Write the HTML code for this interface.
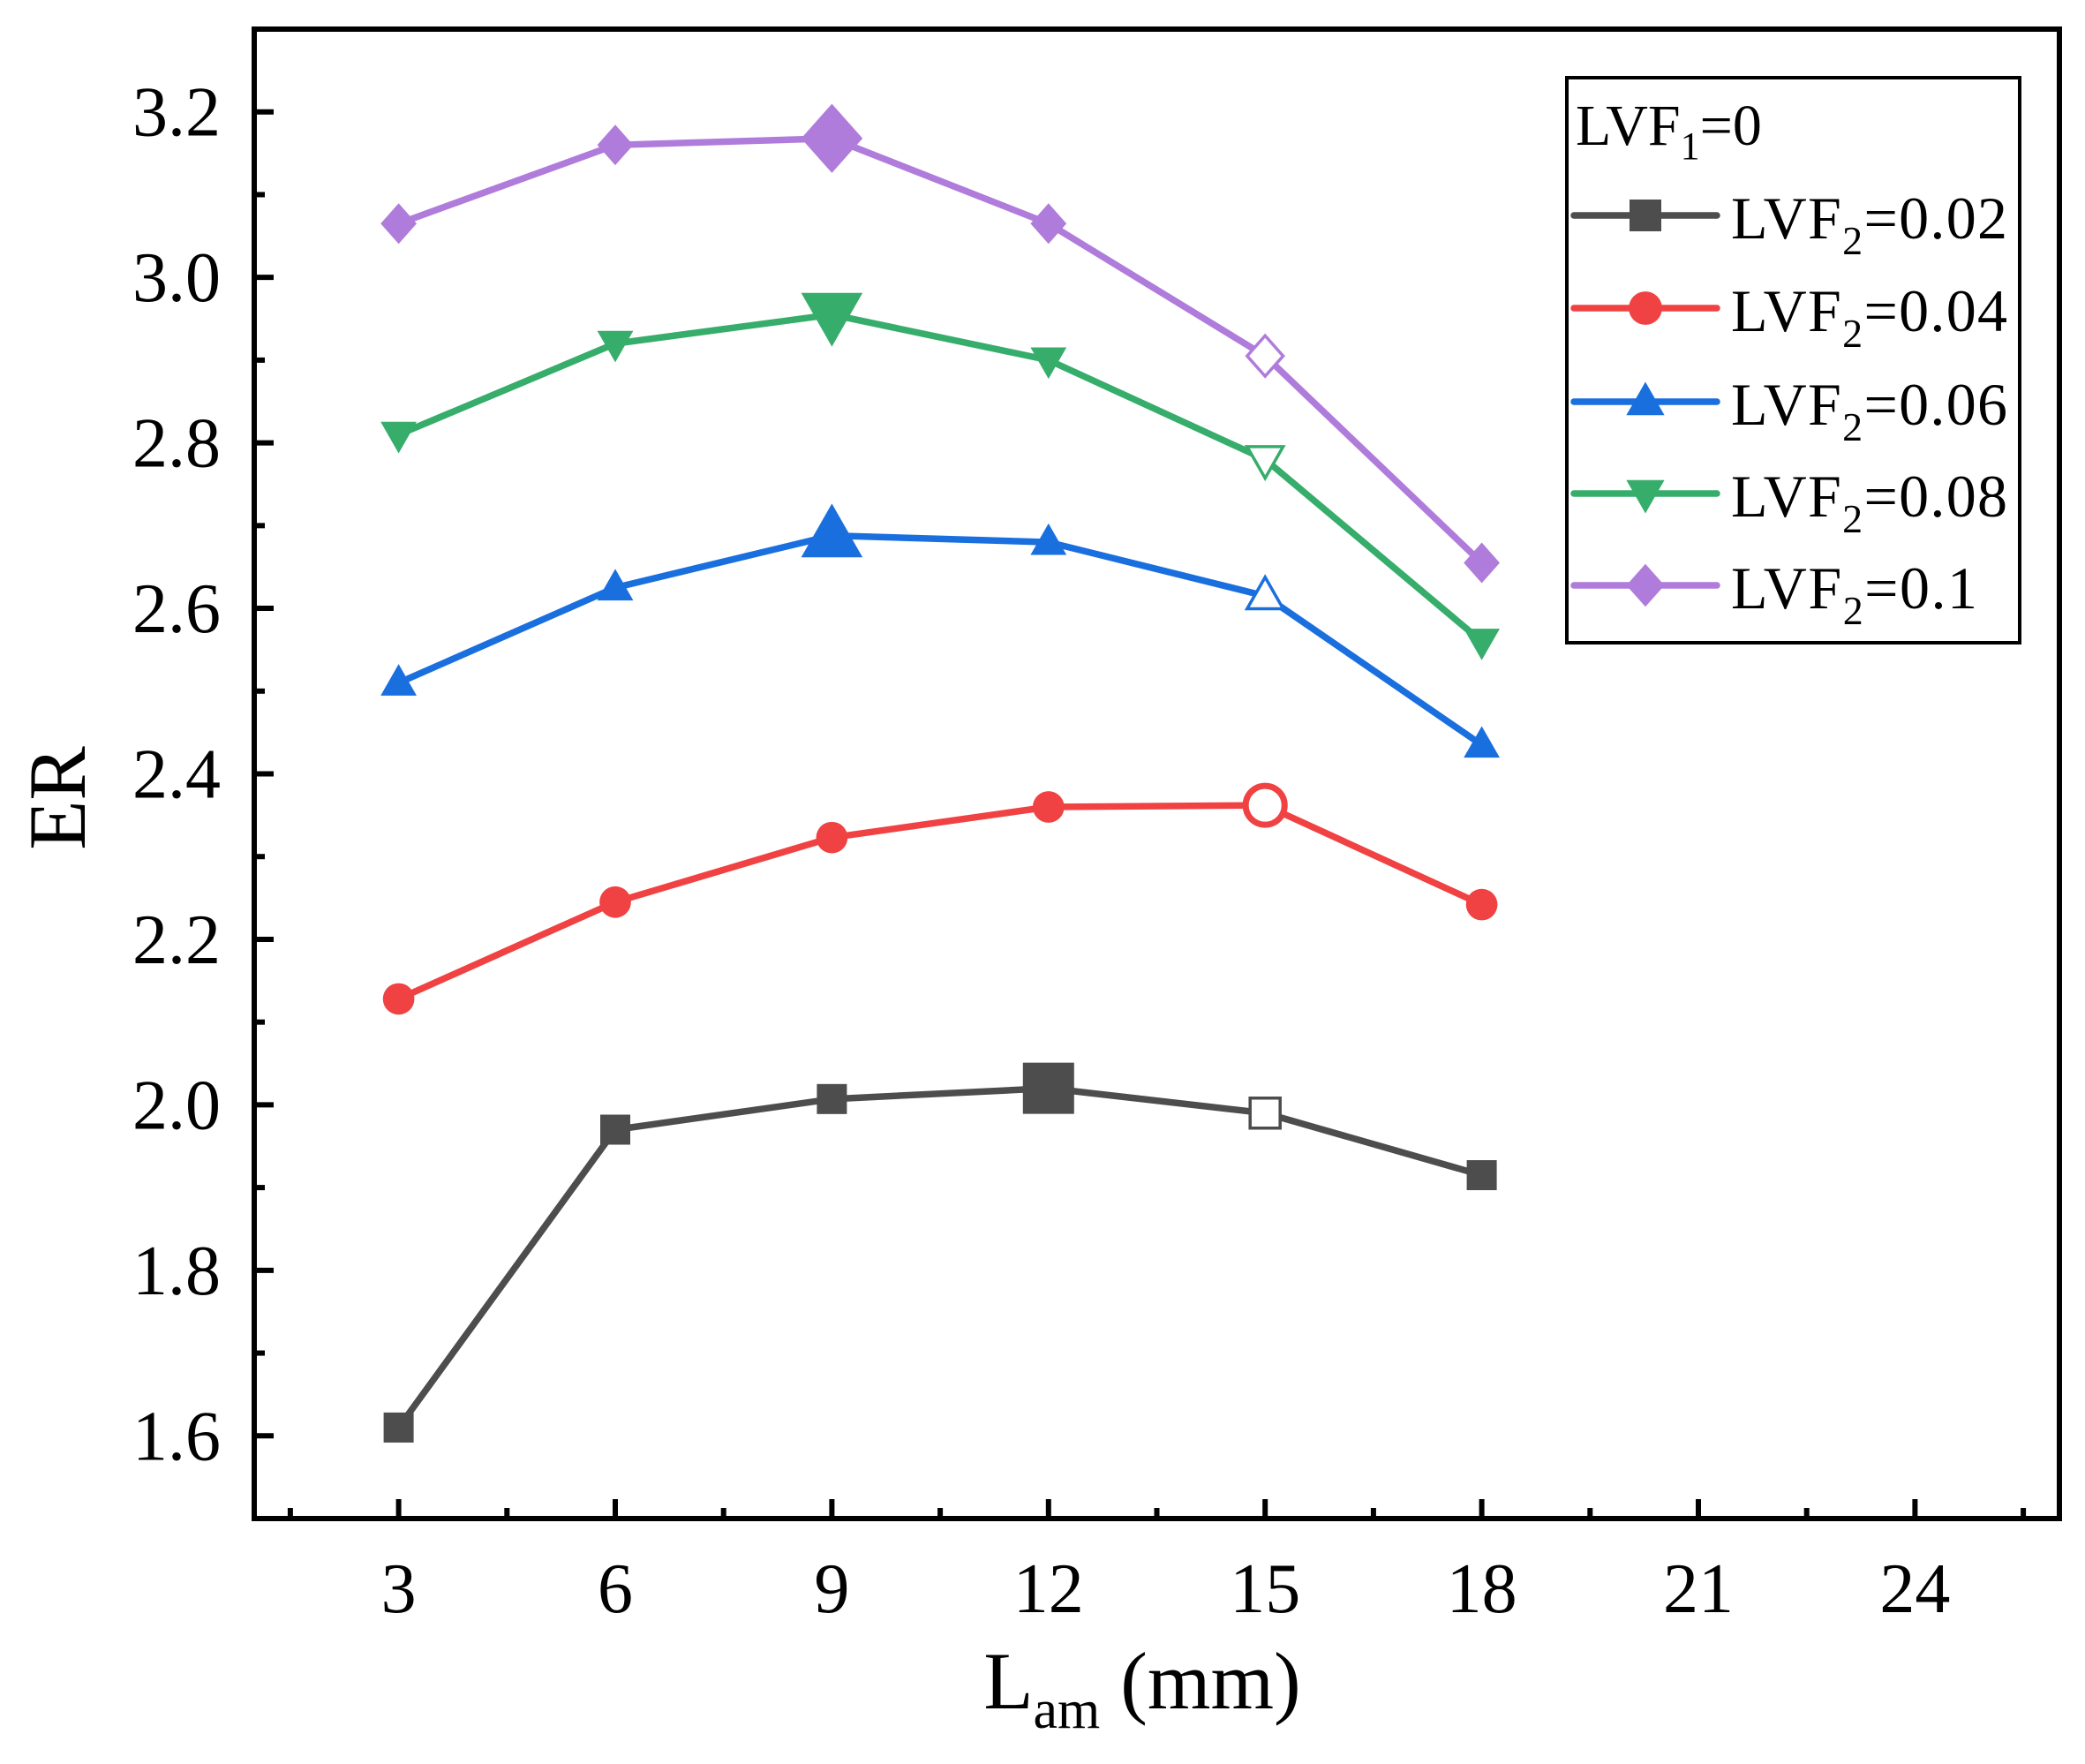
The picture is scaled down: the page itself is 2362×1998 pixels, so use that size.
<!DOCTYPE html>
<html><head><meta charset="utf-8"><style>
html,body{margin:0;padding:0;background:#fff;}
svg{display:block;font-family:"Liberation Serif",serif;}
</style></head><body>
<svg id="chart" width="2362" height="1998" viewBox="0 0 2362 1998" xmlns="http://www.w3.org/2000/svg">
<g id="plot"></g>
</svg>
<script>
const xCategories = [3, 6, 9, 12, 15, 18];
const seriesNames = ["0.02", "0.04", "0.06", "0.08", "0.1"];
const s002 = [1.61, 1.97, 2.007, 2.02, 1.99, 1.915];
const s004 = [2.128, 2.245, 2.323, 2.36, 2.362, 2.242];
const s006 = [2.51, 2.625, 2.688, 2.68, 2.615, 2.435];
const s008 = [2.81, 2.92, 2.955, 2.90, 2.78, 2.56];
const s010 = [3.065, 3.16, 3.168, 3.065, 2.905, 2.655];
const xTickLabels = [3, 6, 9, 12, 15, 18, 21, 24];
const yTickLabels = ["1.6", "1.8", "2.0", "2.2", "2.4", "2.6", "2.8", "3.0", "3.2"];

const L = 288, R = 2333, T = 33, B = 1720;
const xMin = 1, xMax = 26, yMin = 1.5, yMax = 3.3;
const xs = v => L + (v - xMin) / (xMax - xMin) * (R - L);
const ys = v => B - (v - yMin) / (yMax - yMin) * (B - T);
const NS = "http://www.w3.org/2000/svg";
const g = document.getElementById('plot');
function mk(tag, attrs, parent) {
  const e = document.createElementNS(NS, tag);
  for (const k in attrs) e.setAttribute(k, attrs[k]);
  (parent || g).appendChild(e);
  return e;
}
const colors = ["#4d4d4d", "#f04242", "#1a6fdf", "#37ad6b", "#b07cdb"];
const shapes = ["square", "circle", "up", "down", "diamond"];
const allSeries = [s002, s004, s006, s008, s010];
const bigIdx = [3, -1, 2, 2, 2];
const openIdx = [4, 4, 4, 4, 4];

function marker(shape, cx, cy, r, color, open, parent) {
  const fill = open ? "#fff" : color;
  const sw = open ? 3.5 : 0;
  let e;
  if (shape === "square") e = mk('rect', {x: cx - r, y: cy - r, width: 2 * r, height: 2 * r, fill, stroke: color, 'stroke-width': sw}, parent);
  else if (shape === "circle") e = mk('circle', {cx, cy, r: r * 1.05, fill, stroke: color, 'stroke-width': open ? 7 : 0}, parent);
  else if (shape === "up") e = mk('polygon', {points: `${cx},${cy - r * 1.25} ${cx - r * 1.2},${cy + r * 0.85} ${cx + r * 1.2},${cy + r * 0.85}`, fill, stroke: color, 'stroke-width': sw}, parent);
  else if (shape === "down") e = mk('polygon', {points: `${cx},${cy + r * 1.25} ${cx - r * 1.2},${cy - r * 0.85} ${cx + r * 1.2},${cy - r * 0.85}`, fill, stroke: color, 'stroke-width': sw}, parent);
  else e = mk('polygon', {points: `${cx},${cy - r * 1.35} ${cx + r * 1.2},${cy} ${cx},${cy + r * 1.35} ${cx - r * 1.2},${cy}`, fill, stroke: color, 'stroke-width': sw}, parent);
  return e;
}

allSeries.forEach((vals, si) => {
  const sg = mk('g', {});
  
  
  const pts = vals.map((v, i) => xs(xCategories[i]) + "," + ys(v)).join(" ");
  const pl = mk('polyline', {points: pts, fill: 'none', stroke: colors[si], 'stroke-width': 7.5, 'stroke-linejoin': 'round'}, sg);
  
  
  vals.forEach((v, i) => {
    let r = 17;
    if (i === bigIdx[si]) r = 29;
    if (si === 1 && i === 4) r = 21;
    const m = marker(shapes[si], xs(xCategories[i]), ys(v), r, colors[si], i === openIdx[si], sg);
    
    
  });
});

const fr = mk('rect', {x: L, y: T, width: R - L, height: B - T, fill: 'none', stroke: '#000', 'stroke-width': 6});



yTickLabels.forEach(lbl => {
  const v = parseFloat(lbl), y = ys(v);
  mk('line', {x1: L, x2: L + 22, y1: y, y2: y, stroke: '#000', 'stroke-width': 6});
  const t = mk('text', {x: 250, y: y + 27, 'text-anchor': 'end', 'font-size': 80});
  t.textContent = lbl;
  
  
  const ym = ys(v + 0.1);
  if (v + 0.1 < yMax) mk('line', {x1: L, x2: L + 12, y1: ym, y2: ym, stroke: '#000', 'stroke-width': 6});
});
xTickLabels.forEach(v => {
  const x = xs(v);
  mk('line', {x1: x, x2: x, y1: B, y2: B - 22, stroke: '#000', 'stroke-width': 6});
  const t = mk('text', {x: x, y: 1826, 'text-anchor': 'middle', 'font-size': 80});
  t.textContent = v;
  
  
});
[1.5, 4.5, 7.5, 10.5, 13.5, 16.5, 19.5, 22.5, 25.5].forEach(v => {
  const x = xs(v);
  mk('line', {x1: x, x2: x, y1: B, y2: B - 12, stroke: '#000', 'stroke-width': 6});
});

const xt = mk('text', {x: 1294, y: 1935, 'text-anchor': 'middle', 'font-size': 92});
xt.innerHTML = 'L<tspan font-size="62" dy="22">am</tspan><tspan dy="-22"> (mm)</tspan>';


const yt = mk('text', {x: 0, y: 0, 'text-anchor': 'middle', 'font-size': 92, transform: 'translate(96,904) rotate(-90)'});
yt.textContent = 'ER';



const lg = mk('g', {});


mk('rect', {x: 1775, y: 88, width: 513, height: 640, fill: '#fff', stroke: '#000', 'stroke-width': 4}, lg);
const lt = mk('text', {x: 1785, y: 164, 'font-size': 66}, lg);
lt.innerHTML = 'LVF<tspan font-size="44" dy="16">1</tspan><tspan dy="-16">=0</tspan>';


const legY = [244, 349, 455, 559, 663];
const legLen = [313, 313, 313, 313, 279];
seriesNames.forEach((n, i) => {
  const eg = mk('g', {}, lg);
  
  
  const y = legY[i];
  mk('line', {x1: 1783, x2: 1945, y1: y, y2: y, stroke: colors[i], 'stroke-width': 7.5, 'stroke-linecap': 'round'}, eg);
  marker(shapes[i], 1864, y, 18, colors[i], false, eg);
  const t = mk('text', {x: 1961, y: y + 26, 'font-size': 68, textLength: legLen[i]}, eg);
  t.innerHTML = 'LVF<tspan font-size="46" dy="18">2</tspan><tspan dy="-18">=' + n + '</tspan>';
});
</script>
</body></html>
